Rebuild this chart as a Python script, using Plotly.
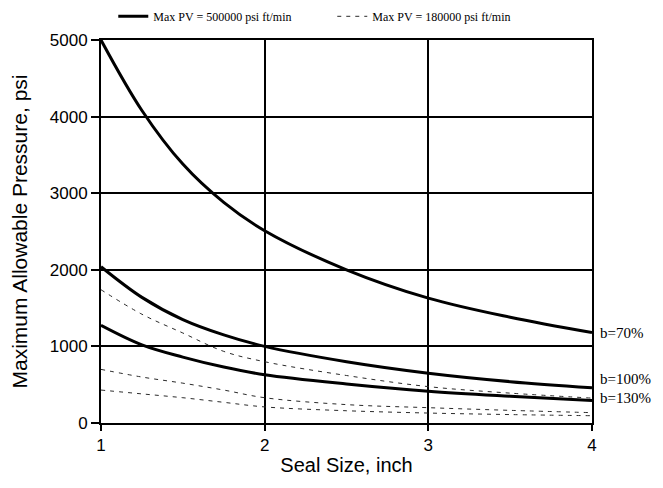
import plotly.graph_objects as go

# Seal size (inch)
seal_size = [1.0, 1.25, 1.5, 1.75, 2.0, 2.5, 3.0, 3.5, 4.0]

# Max PV = 500000 psi ft/min (solid)
pv500_b70 = [5000, 4080, 3380, 2880, 2510, 2000, 1630, 1380, 1180]
pv500_b100 = [2040, 1640, 1350, 1150, 1000, 800, 650, 540, 460]
pv500_b130 = [1275, 1020, 860, 730, 630, 510, 415, 350, 295]

# Max PV = 180000 psi ft/min (dashed)
pv180_b70 = [1740, 1420, 1175, 935, 800, 620, 475, 390, 325]
pv180_b100 = [700, 600, 520, 430, 330, 240, 200, 165, 135]
pv180_b130 = [430, 380, 330, 270, 210, 160, 130, 110, 95]

curve_labels = ["b=70%", "b=100%", "b=130%"]
label_values = [1175, 575, 326]

legend_names = ["Max PV = 500000 psi ft/min", "Max PV = 180000 psi ft/min"]

x_ticks = [1, 2, 3, 4]
y_ticks = [0, 1000, 2000, 3000, 4000, 5000]

fig = go.Figure()

solid = [pv500_b70, pv500_b100, pv500_b130]
dashed = [pv180_b70, pv180_b100, pv180_b130]

for i, ys in enumerate(solid):
    fig.add_trace(go.Scatter(
        x=seal_size, y=ys, mode="lines", line_shape="spline",
        line=dict(color="black", width=3),
        name=legend_names[0], legendgroup="pv500", showlegend=(i == 0),
    ))
for i, ys in enumerate(dashed):
    fig.add_trace(go.Scatter(
        x=seal_size, y=ys, mode="lines", line_shape="spline",
        line=dict(color="#2a2a2a", width=1, dash="4px,5px"),
        name=legend_names[1], legendgroup="pv180", showlegend=(i == 0),
    ))

for lab, v in zip(curve_labels, label_values):
    fig.add_annotation(
        x=4, y=v, xref="x", yref="y", text=lab, showarrow=False,
        xanchor="left", xshift=6,
        font=dict(family="Liberation Serif", size=15, color="black"),
    )

fig.update_xaxes(
    range=[1, 4], tickvals=x_ticks, ticktext=[str(t) for t in x_ticks],
    showgrid=True, gridcolor="black", gridwidth=2,
    showline=True, linecolor="black", linewidth=2, mirror=True,
    ticks="outside", ticklen=6, tickwidth=2, tickcolor="black",
    tickfont=dict(family="Liberation Sans", size=17, color="black"),
    title=dict(text="Seal Size, inch", standoff=4,
               font=dict(family="Liberation Sans", size=20, color="black")),
    zeroline=False, automargin=False,
)
fig.update_yaxes(
    range=[0, 5000], tickvals=y_ticks, ticktext=[str(t) for t in y_ticks],
    showgrid=True, gridcolor="black", gridwidth=2,
    showline=True, linecolor="black", linewidth=2, mirror=True,
    ticks="outside", ticklen=8, tickwidth=2, tickcolor="black",
    tickfont=dict(family="Liberation Sans", size=17, color="black"),
    title=dict(text="Maximum Allowable Pressure, psi", standoff=16,
               font=dict(family="Liberation Sans", size=21, color="black")),
    zeroline=False, automargin=False,
)

fig.update_layout(
    width=655, height=480,
    margin=dict(l=93, r=71, t=32, b=65, autoexpand=False),
    plot_bgcolor="white", paper_bgcolor="white",
    legend=dict(
        orientation="h", x=0.025, y=1.024, xanchor="left", yanchor="bottom",
        entrywidth=174, entrywidthmode="pixels",
        font=dict(family="Liberation Serif", size=12, color="black"),
        bgcolor="rgba(0,0,0,0)",
    ),
)

fig.write_html("out.html")
